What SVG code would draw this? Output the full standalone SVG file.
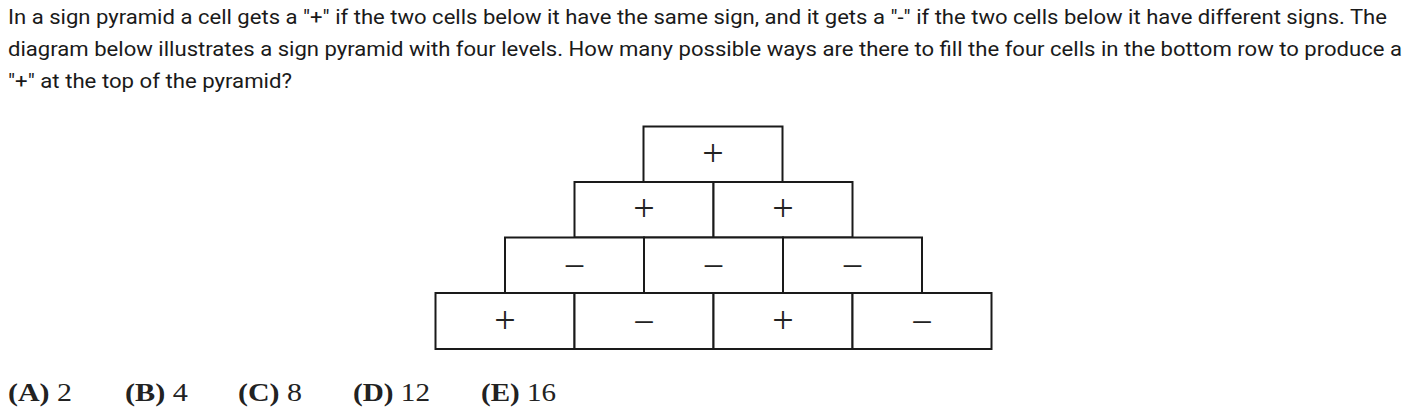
<svg xmlns="http://www.w3.org/2000/svg" width="1412" height="415" viewBox="0 0 1412 415">
<style>
.q{font-family:Roboto,"Liberation Sans",sans-serif;font-size:20px;fill:#1a1a1a}
.c{fill:#fff;stroke:#1a1a1a;stroke-width:2}
.s{font-family:"Liberation Serif","DejaVu Serif",serif;font-size:38px;fill:#222;text-anchor:middle}
.a{font-family:"Liberation Serif","DejaVu Serif",serif;font-size:25px;fill:#222}
.b{font-weight:bold}
</style>
<rect width="1412" height="415" fill="#fff"/>
<g id="question">
<text class="q" x="8" y="24" textLength="1379" lengthAdjust="spacingAndGlyphs">In a sign pyramid a cell gets a "+" if the two cells below it have the same sign, and it gets a "-" if the two cells below it have different signs. The</text>
<text class="q" x="8" y="56" textLength="1394" lengthAdjust="spacingAndGlyphs">diagram below illustrates a sign pyramid with four levels. How many possible ways are there to fill the four cells in the bottom row to produce a</text>
<text class="q" x="8" y="88" textLength="284" lengthAdjust="spacingAndGlyphs">"+" at the top of the pyramid?</text>
</g>
<g id="row1">
<g id="c1-1"><rect class="c" x="643.5" y="126.5" width="139" height="55.5"/><text class="s" x="713" y="165.5">+</text></g>
</g>
<g id="row2">
<g id="c2-1"><rect class="c" x="574.5" y="182" width="139" height="55.5"/><text class="s" x="644" y="221">+</text></g>
<g id="c2-2"><rect class="c" x="713.5" y="182" width="139" height="55.5"/><text class="s" x="783" y="221">+</text></g>
</g>
<g id="row3">
<g id="c3-1"><rect class="c" x="505" y="237.5" width="139" height="55.5"/><text class="s" x="574.5" y="279">−</text></g>
<g id="c3-2"><rect class="c" x="644" y="237.5" width="139" height="55.5"/><text class="s" x="713.5" y="279">−</text></g>
<g id="c3-3"><rect class="c" x="783" y="237.5" width="139" height="55.5"/><text class="s" x="852.5" y="279">−</text></g>
</g>
<g id="row4">
<g id="c4-1"><rect class="c" x="435.5" y="293" width="139" height="56"/><text class="s" x="505" y="332.5">+</text></g>
<g id="c4-2"><rect class="c" x="574.5" y="293" width="139" height="56"/><text class="s" x="644" y="334.5">−</text></g>
<g id="c4-3"><rect class="c" x="713.5" y="293" width="139" height="56"/><text class="s" x="783" y="332.5">+</text></g>
<g id="c4-4"><rect class="c" x="852.5" y="293" width="139" height="56"/><text class="s" x="922" y="334.5">−</text></g>
</g>
<g id="answers">
<text class="a" x="8" y="401" textLength="64" lengthAdjust="spacingAndGlyphs"><tspan class="b">(A)</tspan> 2</text>
<text class="a" x="125" y="401" textLength="63" lengthAdjust="spacingAndGlyphs"><tspan class="b">(B)</tspan> 4</text>
<text class="a" x="238" y="401" textLength="64" lengthAdjust="spacingAndGlyphs"><tspan class="b">(C)</tspan> 8</text>
<text class="a" x="353" y="401" textLength="77" lengthAdjust="spacingAndGlyphs"><tspan class="b">(D)</tspan> 12</text>
<text class="a" x="481" y="401" textLength="75" lengthAdjust="spacingAndGlyphs"><tspan class="b">(E)</tspan> 16</text>
</g>
</svg>
